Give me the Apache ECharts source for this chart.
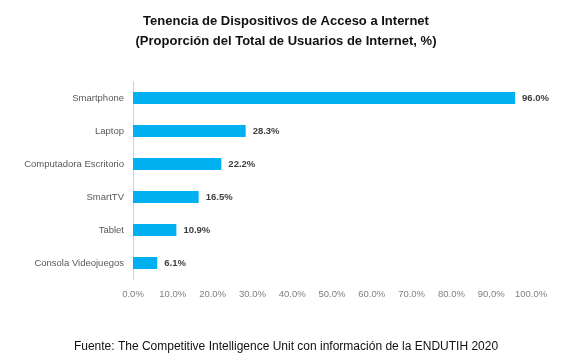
<!DOCTYPE html>
<html>
<head>
<meta charset="utf-8">
<script src="https://cdn.jsdelivr.net/npm/echarts@6/dist/echarts.min.js"></script>
<style>html,body{margin:0;padding:0;background:#fff;}#c{width:572px;height:364px;}</style>
</head>
<body>
<div id="c"></div>
<script>
var categories = ['Smartphone', 'Laptop', 'Computadora Escritorio', 'SmartTV', 'Tablet', 'Consola Videojuegos'];
var values = [96.0, 28.3, 22.2, 16.5, 10.9, 6.1];
var titleLines = ['Tenencia de Dispositivos de Acceso a Internet', '(Proporción del Total de Usuarios de Internet, %)'];
var footer = 'Fuente: The Competitive Intelligence Unit con información de la ENDUTIH 2020';

var chart = echarts.init(document.getElementById('c'));
chart.setOption({
  animation: false,
  title: [{
    text: titleLines.join('\n'),
    left: 'center', top: 6,
    textStyle: {fontFamily: 'Liberation Sans', fontSize: 13, fontWeight: 'bold', color: '#111', lineHeight: 20}
  }, {
    text: footer,
    left: 'center', top: 336,
    textStyle: {fontFamily: 'Liberation Sans', fontSize: 12, fontWeight: 'normal', color: '#111'}
  }],
  grid: {left: 133, right: 41, top: 81.5, bottom: 84.5},
  xAxis: {
    type: 'value', min: 0, max: 100, interval: 10,
    axisLine: {show: false}, axisTick: {show: false}, splitLine: {show: false},
    axisLabel: {formatter: function (v) { return v.toFixed(1) + '%'; }, fontFamily: 'Liberation Sans', fontSize: 9.5, color: '#808080', margin: 10}
  },
  yAxis: {
    type: 'category', inverse: true, data: categories,
    axisLine: {show: true, lineStyle: {color: '#d0d0d0', width: 1}},
    axisTick: {show: false},
    axisLabel: {fontFamily: 'Liberation Sans', fontSize: 9.5, color: '#595959', margin: 9}
  },
  series: [{
    type: 'bar', data: values, barWidth: 12,
    itemStyle: {color: '#00B0F0'},
    label: {show: true, position: 'right', distance: 7, formatter: function (p) { return p.value.toFixed(1) + '%'; },
      fontFamily: 'Liberation Sans', fontSize: 9.5, fontWeight: 'bold', color: '#404040'}
  }]
});
</script>
</body>
</html>
